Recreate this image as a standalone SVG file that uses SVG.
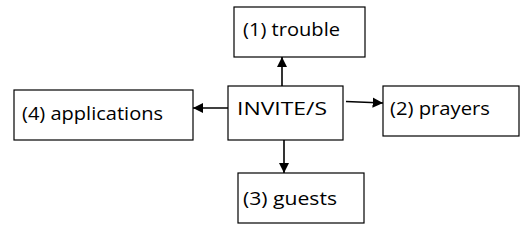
<svg xmlns="http://www.w3.org/2000/svg" width="531" height="232" viewBox="0 0 531 232">
<defs>
<style>
.box{fill:#fff;stroke:#000;stroke-width:1.2}
.t{font-family:"Open Sans","Liberation Sans",sans-serif;font-size:18.5px;fill:#000}
.c{stroke:#000;stroke-width:1.6;fill:none;marker-end:url(#ah)}
</style>
<marker id="ah" viewBox="0 0 10 10" refX="10" refY="5" markerWidth="6.5" markerHeight="6.5" markerUnits="strokeWidth" orient="auto">
<path d="M0,0 L10,5 L0,10 z" fill="#000"/>
</marker>
</defs>
<rect width="531" height="232" fill="#fff"/>
<g id="connectors">
<line class="c" x1="282" y1="86" x2="282" y2="57"/>
<line class="c" x1="228" y1="108" x2="193" y2="108"/>
<line class="c" x1="346" y1="101.5" x2="383" y2="103"/>
<line class="c" x1="284" y1="140" x2="284" y2="173"/>
</g>
<g id="invite">
<rect class="box" x="228" y="86" width="115" height="54"/>
<text class="t" x="237" y="115" textLength="90" lengthAdjust="spacingAndGlyphs">INVITE/S</text>
</g>
<g id="trouble">
<rect class="box" x="234" y="7" width="131" height="50"/>
<text class="t" x="243" y="36" textLength="97" lengthAdjust="spacingAndGlyphs">(1) trouble</text>
</g>
<g id="prayers">
<rect class="box" x="383" y="86" width="136" height="50"/>
<text class="t" x="390" y="115" textLength="100" lengthAdjust="spacingAndGlyphs">(2) prayers</text>
</g>
<g id="guests">
<rect class="box" x="238" y="173" width="126" height="50"/>
<text class="t" x="243" y="205" textLength="94" lengthAdjust="spacingAndGlyphs">(3) guests</text>
</g>
<g id="applications">
<rect class="box" x="14" y="90" width="179" height="50"/>
<text class="t" x="22" y="120" textLength="141" lengthAdjust="spacingAndGlyphs">(4) applications</text>
</g>
</svg>
